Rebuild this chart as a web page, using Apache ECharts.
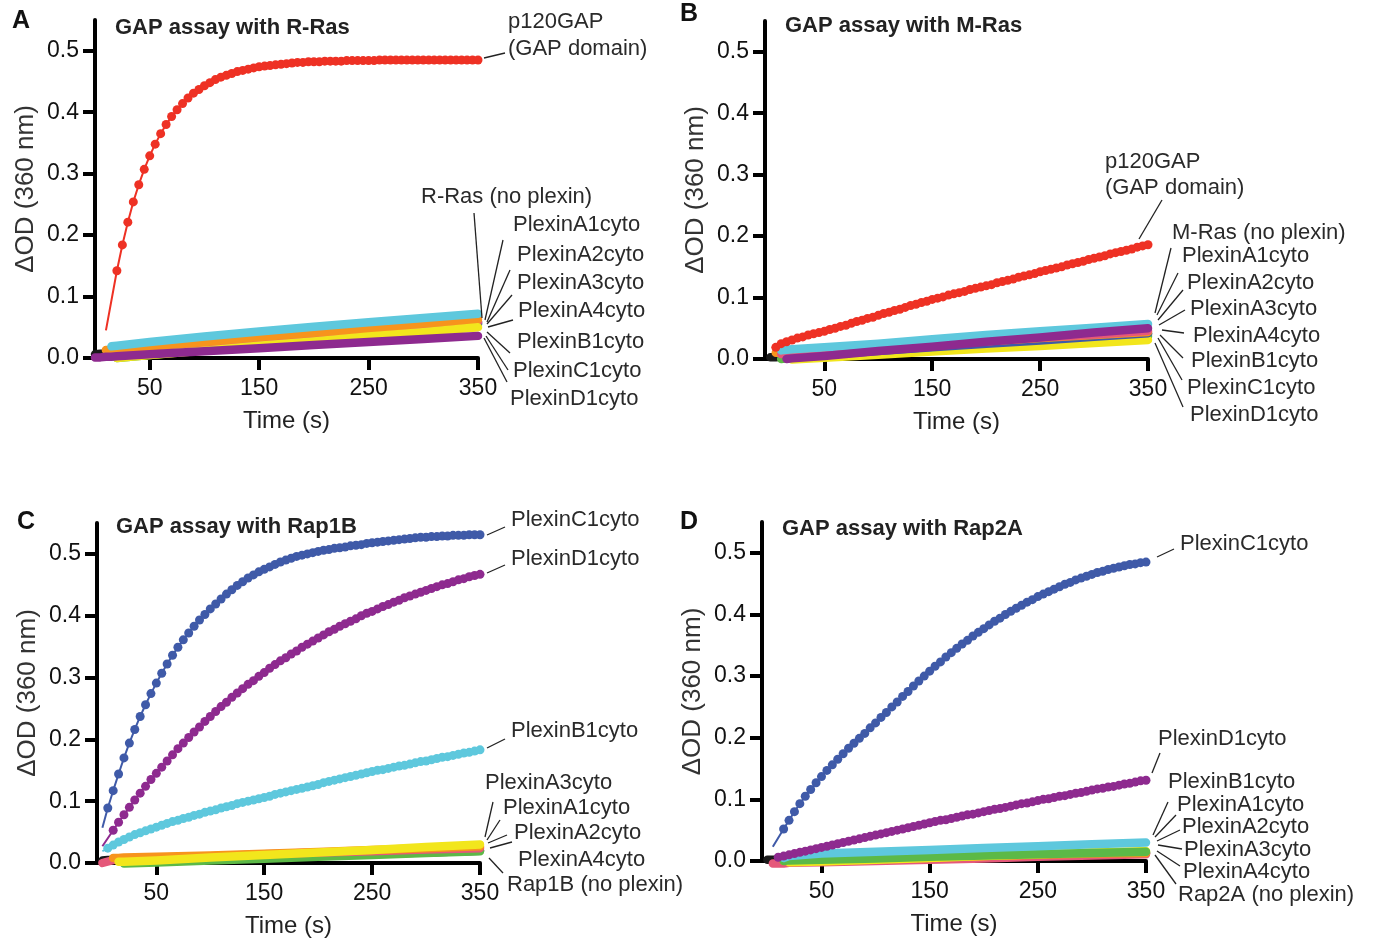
<!DOCTYPE html>
<html lang="en">
<head>
<meta charset="UTF-8">
<title>GAP assays</title>
<script src="https://cdn.jsdelivr.net/npm/echarts@6.0.0/dist/echarts.min.js"></script>
<style>
    html, body { margin: 0; padding: 0; background: #fff; }
    #chart { width: 1373px; height: 943px; }
</style>
</head>
<body>
<div id="chart"></div>

<script type="text/javascript">
    var FONT = '"Liberation Sans", Arial, sans-serif';

    // time points (s), 5 s steps, for the dotted curves
    var T = [0,5,10,15,20,25,30,35,40,45,50,55,60,65,70,75,80,85,90,95,100,105,110,115,120,125,130,135,140,145,150,155,160,165,170,175,180,185,190,195,200,205,210,215,220,225,230,235,240,245,250,255,260,265,270,275,280,285,290,295,300,305,310,315,320,325,330,335,340,345,350];
    // time points (s) read for the packed low traces
    var TL = [0,5,10,15,20,50,100,150,200,250,300,350];

    var xTicks = [50, 150, 250, 350];
    var yTicks = [0, 0.1, 0.2, 0.3, 0.4, 0.5];

    // all values in mOD (x1000)
    // A: R-Ras
    var aGap = [null,null,45,null,142,184,221,254,282,307,329,348,365,380,393,404,414,423,431,437,443,448,453,457,460,463,466,468,470,472,474,475,476,477,478,479,480,481,481,482,482,482,483,483,483,483,484,484,484,484,484,484,485,485,485,485,485,485,485,485,485,485,485,485,485,485,485,485,485,485,485];
    var aNone = [6,7,7,8,9,13,21,28,36,43,51,58];
    var aA1 = [null,null,13,13,14,19,26,34,41,48,56,63];
    var aA2 = [null,null,null,6,7,12,20,28,35,43,51,59];
    var aA3 = [null,null,null,null,0,5,13,22,30,38,47,55];
    var aA4 = [null,null,null,null,0,5,12,20,27,35,42,50];
    var aB1 = [null,null,null,19,20,26,35,43,51,58,65,72];
    var aC1 = [null,null,null,4,5,10,18,26,33,41,48,56];
    var aD1 = [1,1,2,2,3,6,11,16,21,26,31,36];

    // B: M-Ras
    var bGap = [null,19,25,28,31,34,36,39,41,43,45,48,50,53,55,58,61,63,66,68,71,74,76,79,81,84,87,89,92,94,97,99,101,104,106,108,110,113,115,117,119,121,124,126,128,130,133,135,137,139,142,144,146,148,150,153,155,157,159,162,164,166,168,171,173,175,177,179,182,184,186];
    var bNone = [3,3,4,5,5,8,14,19,25,30,36,41];
    var bA1 = [null,10,10,11,11,14,19,24,29,34,39,44];
    var bA2 = [null,null,8,9,9,13,18,24,29,35,40,46];
    var bA3 = [null,null,0,1,1,4,10,15,21,26,32,37];
    var bA4 = [null,null,null,null,-1,2,7,12,17,21,26,31];
    var bB1 = [null,null,14,15,16,19,25,32,39,45,51,57];
    var bC1 = [null,null,null,3,4,7,13,19,25,30,36,42];
    var bD1 = [null,null,null,0,1,5,13,20,28,35,43,50];

    // C: Rap1B
    var cC1 = [57,89,117,144,170,194,216,237,256,274,291,307,322,336,349,361,372,383,393,402,411,419,427,435,442,449,455,461,466,471,475,479,483,487,490,493,496,498,500,502,504,506,507,509,510,511,513,514,515,517,518,519,520,521,522,523,524,525,526,527,527,528,528,529,529,530,530,530,531,531,531];
    var cD1 = [27,null,53,66,78,90,102,113,124,135,145,155,165,175,185,194,203,212,220,229,237,245,253,260,268,275,282,289,295,302,308,315,321,327,332,338,343,349,354,359,364,369,374,378,383,387,391,395,400,404,407,411,415,418,422,425,429,432,435,438,441,444,447,450,452,455,458,460,463,465,467];
    var cB1 = [19,24,29,34,38,42,46,49,52,55,58,61,64,67,69,72,74,77,79,82,84,86,89,91,93,96,98,100,102,104,106,108,111,113,115,117,119,121,123,125,127,130,132,134,136,138,140,142,144,146,148,150,151,153,155,157,158,160,162,164,165,167,169,171,172,174,176,178,179,181,183];
    var cNone = [4,5,5,6,6,7,9,11,13,15,17,20];
    var cA1 = [null,null,8,8,9,10,12,15,18,21,24,27];
    var cA2 = [0,null,null,7,7,9,11,14,17,19,22,24];
    var cA3 = [null,null,null,null,-1,1,4,7,10,13,16,19];
    var cA4 = [null,null,null,2,2,4,9,13,17,21,26,30];

    // D: Rap2A
    var dC1 = [null,23,null,52,66,80,93,105,116,127,137,147,156,165,174,183,191,199,207,216,224,233,241,250,258,267,275,284,292,300,308,316,323,331,338,345,352,358,365,371,377,383,389,394,400,405,410,415,420,424,429,433,437,441,445,449,452,456,459,462,465,468,470,473,475,477,479,481,482,484,485];
    var dD1 = [null,null,6,8,10,12,14,16,18,20,22,24,26,28,30,32,34,36,38,40,42,44,46,48,50,52,54,56,58,60,62,64,66,67,69,71,73,75,76,78,80,82,84,85,87,89,91,93,94,96,98,100,101,103,105,106,108,110,111,113,115,117,118,120,121,123,125,126,128,130,131];
    var dNone = [2,2,2,2,3,4,5,7,8,10,11,13];
    var dA1 = [null,null,null,0,0,2,4,6,8,10,12,13];
    var dA2 = [null,-4,-4,-4,-3,-2,0,2,4,7,9,11];
    var dA3 = [null,null,null,0,1,2,4,7,9,11,13,15];
    var dA4 = [null,null,null,null,-2,-1,2,5,8,11,14,16];
    var dB1 = [null,null,null,5,8,12,15,18,21,24,27,30];

    var RED = '#ee3124', BLACK = '#1a1a1a', ORANGE = '#f7941d', PINK = '#e5587a',
        GREEN = '#5cb947', YELLOW = '#f2e61c', CYAN = '#5ec8dd', BLUE = '#3f5aa8', PURPLE = '#8e2a8f';

    var grids = [
        {left: 95, top: 20, width: 383, height: 338},
        {left: 765, top: 21, width: 383, height: 338},
        {left: 97, top: 523, width: 383, height: 340},
        {left: 762, top: 522, width: 384, height: 339}
    ];
    var xMins = [0, -5, -5, -5];

    function pts(xs, ys, hideFirst) {
        var out = [], first = true;
        for (var i = 0; i < ys.length; i++) {
            if (ys[i] === null) continue;
            var item = {value: [xs[i], ys[i] / 1000]};
            if (first && hideFirst) item.symbolSize = 0;
            first = false;
            out.push(item);
        }
        return out;
    }

    function dots(p, ys, color, hideFirst) {
        return {
            type: 'line', xAxisIndex: p, yAxisIndex: p, data: pts(T, ys, hideFirst),
            symbol: 'circle', symbolSize: 9, showSymbol: true, clip: false,
            lineStyle: {color: color, width: 2}, itemStyle: {color: color},
            z: 5, silent: true, animation: false
        };
    }

    function band(p, ys, color) {
        return {
            type: 'line', xAxisIndex: p, yAxisIndex: p, data: pts(TL, ys, false),
            symbol: 'none', showSymbol: false, clip: false,
            lineStyle: {color: color, width: 8.5, cap: 'round', join: 'round'},
            z: 3, silent: true, animation: false
        };
    }

    var xAxes = [], yAxes = [];
    for (var p = 0; p < 4; p++) {
        xAxes.push({
            type: 'value', gridIndex: p, min: xMins[p], max: 350,
            name: 'Time (s)', nameLocation: 'middle', nameGap: 51,
            nameTextStyle: {fontSize: 24, color: '#222', fontFamily: FONT},
            axisLine: {show: true, onZero: false, lineStyle: {color: '#000', width: 4}},
            axisTick: {show: true, customValues: xTicks, length: 12, lineStyle: {color: '#000', width: 4}},
            axisLabel: {customValues: xTicks, fontSize: 23, color: '#111', margin: 19, fontFamily: FONT},
            splitLine: {show: false}
        });
        yAxes.push({
            type: 'value', gridIndex: p, min: 0, max: 0.55,
            name: 'ΔOD (360 nm)', nameLocation: 'middle', nameGap: 56,
            nameTextStyle: {fontSize: 26, color: '#333', fontFamily: FONT},
            axisLine: {show: true, onZero: false, lineStyle: {color: '#000', width: 4}},
            axisTick: {show: true, customValues: yTicks, length: 12, lineStyle: {color: '#000', width: 4}},
            axisLabel: {customValues: yTicks, fontSize: 23, color: '#111', margin: 16, fontFamily: FONT,
                formatter: function (v) { return v.toFixed(1); }},
            splitLine: {show: false}
        });
    }

    var series = [
        band(0, aNone, BLACK), band(0, aA3, GREEN), band(0, aC1, BLUE), band(0, aA2, PINK),
        band(0, aA1, ORANGE), band(0, aA4, YELLOW), band(0, aB1, CYAN), band(0, aD1, PURPLE),
        dots(0, aGap, RED, true),

        band(1, bNone, BLACK), band(1, bA3, GREEN), band(1, bA4, YELLOW), band(1, bC1, BLUE),
        band(1, bA1, ORANGE), band(1, bA2, PINK), band(1, bB1, CYAN), band(1, bD1, PURPLE),
        dots(1, bGap, RED, false),

        band(2, cNone, BLACK), band(2, cA3, GREEN), band(2, cA2, PINK), band(2, cA1, ORANGE),
        band(2, cA4, YELLOW),
        dots(2, cB1, CYAN, true), dots(2, cD1, PURPLE, true), dots(2, cC1, BLUE, true),

        band(3, dNone, BLACK), band(3, dA2, PINK), band(3, dA1, ORANGE), band(3, dA4, YELLOW),
        band(3, dA3, GREEN), band(3, dB1, CYAN),
        dots(3, dD1, PURPLE, false), dots(3, dC1, BLUE, true)
    ];

    // annotations: [text, left x, centre y]
    var labels = [
        ['p120GAP', 508, 22], ['(GAP domain)', 508, 49], ['R-Ras (no plexin)', 421, 197],
        ['PlexinA1cyto', 513, 225], ['PlexinA2cyto', 517, 255], ['PlexinA3cyto', 517, 283],
        ['PlexinA4cyto', 518, 311], ['PlexinB1cyto', 517, 342], ['PlexinC1cyto', 513, 371],
        ['PlexinD1cyto', 510, 399],

        ['p120GAP', 1105, 162], ['(GAP domain)', 1105, 188], ['M-Ras (no plexin)', 1172, 233],
        ['PlexinA1cyto', 1182, 256], ['PlexinA2cyto', 1187, 283], ['PlexinA3cyto', 1190, 309],
        ['PlexinA4cyto', 1193, 336], ['PlexinB1cyto', 1191, 361], ['PlexinC1cyto', 1187, 388],
        ['PlexinD1cyto', 1190, 415],

        ['PlexinC1cyto', 511, 520], ['PlexinD1cyto', 511, 559], ['PlexinB1cyto', 511, 731],
        ['PlexinA3cyto', 485, 783], ['PlexinA1cyto', 503, 808], ['PlexinA2cyto', 514, 833],
        ['PlexinA4cyto', 518, 860], ['Rap1B (no plexin)', 507, 885],

        ['PlexinC1cyto', 1180, 544], ['PlexinD1cyto', 1158, 739], ['PlexinB1cyto', 1168, 782],
        ['PlexinA1cyto', 1177, 805], ['PlexinA2cyto', 1182, 827], ['PlexinA3cyto', 1184, 850],
        ['PlexinA4cyto', 1183, 872], ['Rap2A (no plexin)', 1178, 895]
    ];
    var leaders = [
        [484, 58, 505, 53], [474, 213, 482, 318], [503, 240, 485, 320], [510, 270, 487, 322],
        [512, 295, 487, 324], [513, 320, 488, 327], [510, 353, 487, 332], [508, 370, 486, 336],
        [507, 382, 484, 338],

        [1139, 239, 1162, 200], [1155, 313, 1171, 248], [1157, 315, 1178, 273], [1158, 320, 1183, 290],
        [1159, 325, 1185, 310], [1162, 330, 1184, 333], [1160, 335, 1183, 358], [1158, 338, 1182, 380],
        [1155, 343, 1183, 407],

        [487, 535, 505, 527], [487, 573, 505, 565], [487, 748, 505, 739], [485, 837, 493, 802],
        [487, 840, 500, 820], [488, 843, 507, 835], [490, 848, 512, 842], [489, 858, 503, 873],

        [1157, 557, 1174, 549], [1152, 773, 1160, 753], [1153, 835, 1168, 802], [1155, 837, 1176, 815],
        [1157, 841, 1180, 830], [1158, 845, 1182, 849], [1157, 851, 1180, 866], [1155, 855, 1176, 884]
    ];
    var titles = [
        ['GAP assay with R-Ras', 115, 28], ['GAP assay with M-Ras', 785, 26],
        ['GAP assay with Rap1B', 116, 527], ['GAP assay with Rap2A', 782, 529]
    ];
    var letters = [['A', 12, 21], ['B', 680, 14], ['C', 17, 522], ['D', 680, 522]];

    var graphic = [];
    function addText(t, x, y, font, fill) {
        graphic.push({
            type: 'text', silent: true, z: 10,
            style: {text: t, x: x, y: y, font: font, fill: fill,
                align: 'left', verticalAlign: 'middle', textAlign: 'left', textVerticalAlign: 'middle'}
        });
    }
    labels.forEach(function (l) { addText(l[0], l[1], l[2], '22px ' + FONT, '#2a2a2a'); });
    titles.forEach(function (l) { addText(l[0], l[1], l[2], 'bold 22px ' + FONT, '#222'); });
    letters.forEach(function (l) { addText(l[0], l[1], l[2], 'bold 25px ' + FONT, '#111'); });
    leaders.forEach(function (s) {
        graphic.push({
            type: 'line', silent: true, z: 10,
            shape: {x1: s[0], y1: s[1], x2: s[2], y2: s[3]},
            style: {stroke: '#222', lineWidth: 1.3}
        });
    });

    var chart = echarts.init(document.getElementById('chart'), null, {renderer: 'canvas'});
    chart.setOption({
        backgroundColor: '#fff',
        animation: false,
        grid: grids,
        xAxis: xAxes,
        yAxis: yAxes,
        series: series,
        graphic: graphic
    });
</script>
</body>
</html>
